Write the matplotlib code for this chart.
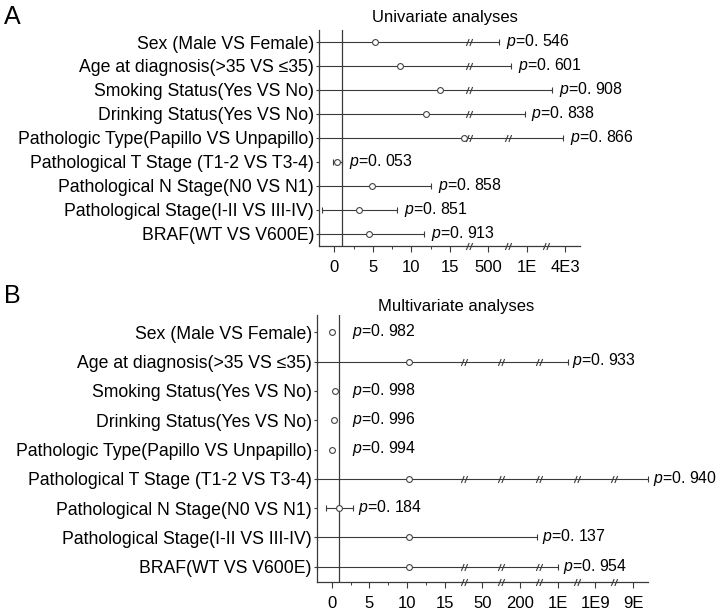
import numpy as np
import matplotlib.pyplot as plt
from matplotlib.path import Path

plt.rcParams['font.family'] = ['Liberation Sans', 'DejaVu Sans']
plt.rcParams['mathtext.fontset'] = 'custom'
plt.rcParams['mathtext.it'] = 'Liberation Sans:italic'
plt.rcParams['mathtext.rm'] = 'Liberation Sans'

labels = ['Sex (Male VS Female)',
          'Age at diagnosis(>35 VS \u226435)',
          'Smoking Status(Yes VS No)',
          'Drinking Status(Yes VS No)',
          'Pathologic Type(Papillo VS Unpapillo)',
          'Pathological T Stage (T1-2 VS T3-4)',
          'Pathological N Stage(N0 VS N1)',
          'Pathological Stage(I-II VS III-IV)',
          'BRAF(WT VS V600E)']

# values are positions on the broken axis (5 units per labelled tick)
# univariate
uni_hr = [5.23, 8.5, 13.7, 11.9, 16.9, 0.39, 4.93, 3.24, 4.54]
uni_lo = [-2.0, -2.0, -2.0, -2.0, -2.0, -0.13, -2.0, -1.56, -2.0]
uni_hi = [21.4, 22.9, 28.3, 24.7, 29.7, 1.04, 12.5, 8.1, 11.6]
uni_p = ['0. 546', '0. 601', '0. 908', '0. 838', '0. 866',
         '0. 053', '0. 858', '0. 851', '0. 913']
uni_breaks = [[17.5], [17.5], [17.5], [17.5], [17.5, 22.5], [], [], [], []]
uni_ticklabels = ['0', '5', '10', '15', '500', '1E', '4E3']
uni_axis_breaks = [17.5, 22.5, 27.5]

# multivariate
nan = np.nan
multi_hr = [0.0, 10.3, 0.44, 0.3, 0.0, 10.3, 1.0, 10.2, 10.3]
multi_lo = [nan, -2.0, nan, nan, nan, -2.0, -0.75, -2.0, -2.0]
multi_hi = [nan, 31.3, nan, nan, nan, 42.0, 2.8, 27.3, 30.0]
multi_p = ['0. 982', '0. 933', '0. 998', '0. 996', '0. 994',
           '0. 940', '0. 184', '0. 137', '0. 954']
multi_breaks = [[], [17.5, 22.5, 27.5], [], [], [],
                [17.5, 22.5, 27.5, 32.5, 37.5], [], [], [17.5, 22.5, 27.5]]
multi_ticklabels = ['0', '5', '10', '15', '50', '200', '1E', '1E9', '9E']
multi_axis_breaks = [17.5, 22.5, 27.5, 32.5, 37.5]

# little "//" marker for the axis breaks
brk = Path([(-0.9, -1), (-0.1, 1), (0.1, -1), (0.9, 1)],
           [Path.MOVETO, Path.LINETO, Path.MOVETO, Path.LINETO])

lc = '#3a3a3a'


def draw(ax, hr, lo, hi, pvals, breaks, ticklabels, axis_breaks, xlim, ylim, pgap):
    y = np.arange(len(labels))
    hr, lo, hi = np.asarray(hr), np.asarray(lo), np.asarray(hi)
    ci = ~np.isnan(lo)
    ax.errorbar(hr[ci], y[ci], xerr=[hr[ci] - lo[ci], hi[ci] - hr[ci]], fmt='none',
                ecolor=lc, elinewidth=0.8, capsize=2.2, capthick=0.8, clip_on=False)
    ax.axvline(1, color=lc, lw=0.9, zorder=1)
    ax.plot(hr, y, 'o', mfc='white', mec='#444444', mew=0.8, ms=4.2, zorder=4, clip_on=False)
    for i, bl in enumerate(breaks):
        if bl:
            ax.plot(bl, [i] * len(bl), ls='none', marker=brk, ms=5, mec=lc, mew=0.8, zorder=3)
    ax.plot(axis_breaks, [ylim[0]] * len(axis_breaks), ls='none', marker=brk, ms=5,
            mec=lc, mew=0.8, clip_on=False, zorder=5)
    # p values sit right of the CI, or right of the reference line when no CI
    xp = np.where(ci, hi, 1.0)
    for i in range(len(labels)):
        gap = pgap if ci[i] else 9
        ax.annotate('$p$=' + pvals[i], (xp[i], y[i]), xytext=(gap, 0.5),
                    textcoords='offset points', ha='left', va='center',
                    fontsize=11.4, annotation_clip=False)

    ax.set_xlim(*xlim)
    ax.set_ylim(*ylim)
    ax.set_xticks(np.arange(len(ticklabels)) * 5, ticklabels)
    ax.set_xticks([2.5, 7.5, 12.5], minor=True)
    ax.set_yticks(y, labels, fontsize=12.7)
    ax.tick_params(axis='x', which='major', length=4, width=0.8, pad=6, labelsize=12, color=lc)
    ax.tick_params(axis='x', which='minor', length=2.5, width=0.7, color=lc)
    ax.tick_params(axis='y', length=2.5, width=0.8, pad=1, color=lc)
    for s in ['top', 'right']:
        ax.spines[s].set_visible(False)
    for s in ['left', 'bottom']:
        ax.spines[s].set_linewidth(0.9)
        ax.spines[s].set_color(lc)


fig = plt.figure(figsize=(7.18, 6.14), dpi=100)
axA = fig.add_axes([0.4443, 0.5998, 0.3635, 0.3513])
axB = fig.add_axes([0.4411, 0.0526, 0.4617, 0.4344])

draw(axA, uni_hr, uni_lo, uni_hi, uni_p, uni_breaks, uni_ticklabels,
     uni_axis_breaks, (-1.99, 31.9), (8.5, -0.5), 5)
draw(axB, multi_hr, multi_lo, multi_hi, multi_p, multi_breaks, multi_ticklabels,
     multi_axis_breaks, (-2.0, 42.0), (8.51, -0.59), 3.5)

fig.text(0.620, 0.9707, 'Univariate analyses', ha='center', va='center', fontsize=12)
fig.text(0.635, 0.5, 'Multivariate analyses', ha='center', va='center', fontsize=12)
fig.text(0.006, 0.972, 'A', fontsize=18, va='center')
fig.text(0.006, 0.518, 'B', fontsize=18, va='center')

plt.savefig('out.png', dpi=100)
